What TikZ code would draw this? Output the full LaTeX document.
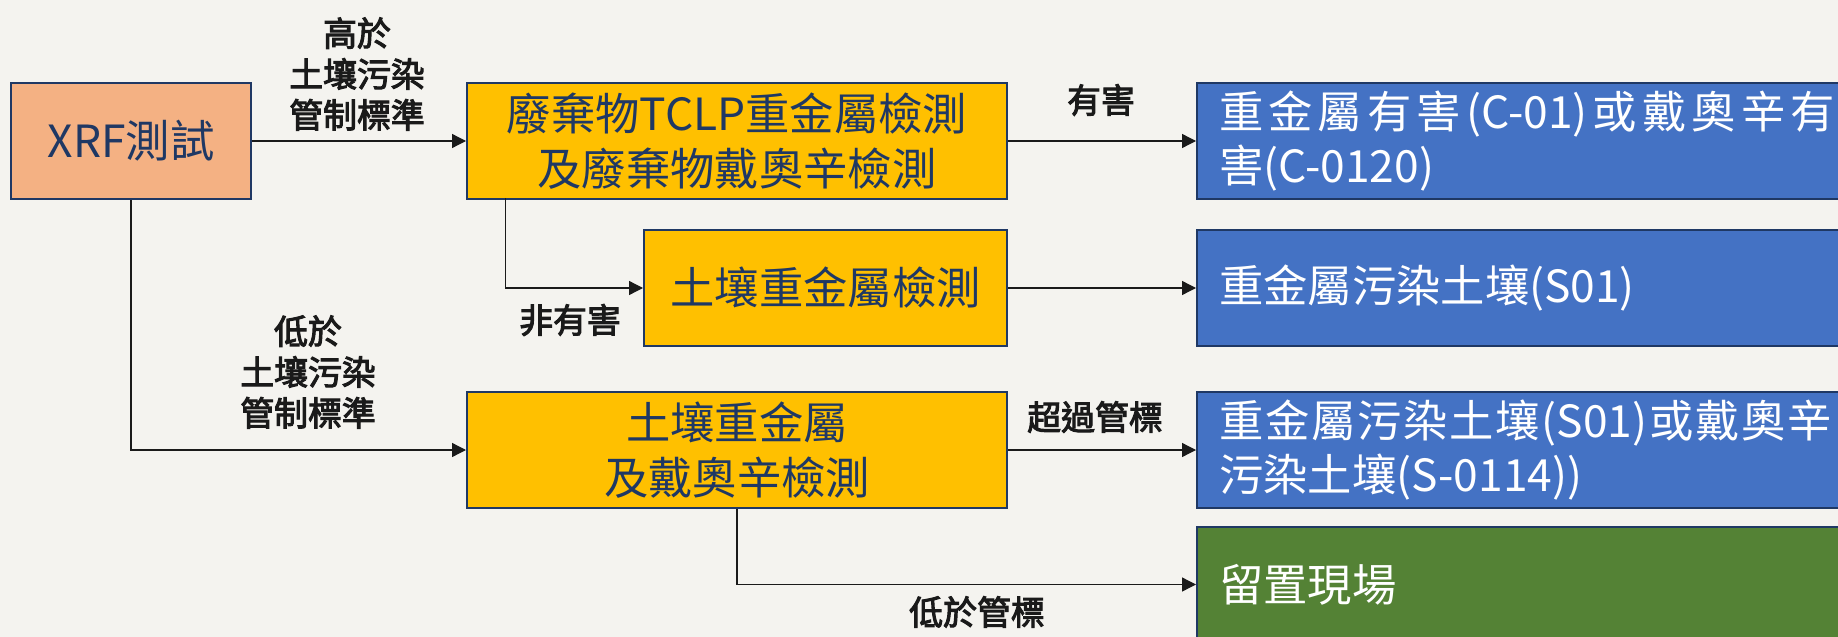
\documentclass[tikz,border=0pt]{standalone}
\usepackage{fontspec}
\setmainfont{Noto Sans CJK TC}
\newfontfamily\labfont[FakeBold=3]{Noto Sans CJK TC}
\usetikzlibrary{arrows.meta}
\definecolor{bg}{HTML}{F4F3EF}
\definecolor{navy}{HTML}{1F3864}
\definecolor{salmon}{HTML}{F4B183}
\definecolor{gold}{HTML}{FFC000}
\definecolor{bluebox}{HTML}{4472C4}
\definecolor{greenbox}{HTML}{548235}
\definecolor{ink}{HTML}{1A1A1A}
\newcommand\jline[2]{\makebox[#1][s]{#2}}
\begin{document}
\begin{tikzpicture}[x=1bp,y=-1bp,
  box/.style={draw=navy,line width=2bp,inner sep=0pt,anchor=north west,
    font=\fontsize{44.5}{55}\selectfont,align=center},
  warm/.style={box,text=navy},
  cool/.style={box,text=white,align=left,inner xsep=22bp,text width=630bp,minimum height=116bp},
  lab/.style={font=\labfont\fontsize{34}{41}\selectfont,align=center,inner sep=0pt,text=ink},
  conn/.style={draw=ink,line width=1.3bp,-{Triangle[length=14bp,width=14bp]}}
]
\fill[bg] (0,0) rectangle (1838,637);
\useasboundingbox (0,0) rectangle (1838,637);
\clip (0,0) rectangle (1838,637);

% boxes
\node[warm,fill=salmon,minimum width=240bp,minimum height=116bp] (xrf) at (10,82) {XRF測試};
\node[warm,fill=gold,minimum width=540bp,minimum height=116bp] (tclp) at (466,82) {廢棄物TCLP重金屬檢測\\及廢棄物戴奧辛檢測};
\node[warm,fill=gold,minimum width=363bp,minimum height=116bp] (soil) at (643,229) {土壤重金屬檢測};
\node[warm,fill=gold,minimum width=540bp,minimum height=116bp] (soild) at (466,391) {土壤重金屬\\及戴奧辛檢測};

\node[cool,fill=bluebox] (r1) at (1196,82) {\jline{616bp}{重\hfil 金\hfil 屬\hfil 有\hfil 害\hfil (C-01)\hfil 或\hfil 戴\hfil 奧\hfil 辛\hfil 有}\\害(C-0120)};
\node[cool,fill=bluebox] (r2) at (1196,229) {重金屬污染土壤(S01)};
\node[cool,fill=bluebox] (r3) at (1196,391) {\jline{613bp}{重\hfil 金\hfil 屬\hfil 污\hfil 染\hfil 土\hfil 壤\hfil (S01)\hfil 或\hfil 戴\hfil 奧\hfil 辛}\\污染土壤(S-0114))};
\node[cool,fill=greenbox,minimum height=115bp] (r4) at (1196,526) {留置現場};

% connectors
\coordinate (tdown) at (505.5,198);
\draw[conn] (xrf.east) -- (tclp.west);
\draw[conn] (tclp.east) -- (r1.west);
\draw[conn] (tdown) |- (soil.west);
\draw[conn] (soil.east) -- (r2.west);
\draw[conn] (xrf.south) |- (soild.west);
\draw[conn] (soild.east) -- (r3.west);
\draw[conn] (soild.south) |- (r4.west);

% labels
\node[lab] (l1) at (357,74) {高於\\土壤污染\\管制標準};
\node[lab] (l2) at (1101,100) {有害};
\node[lab] (l3) at (570,320) {非有害};
\node[lab] (l4) at (308,372) {低於\\土壤污染\\管制標準};
\node[lab] (l5) at (1095,417) {超過管標};
\node[lab] (l6) at (977,612) {低於管標};
\end{tikzpicture}
\end{document}
